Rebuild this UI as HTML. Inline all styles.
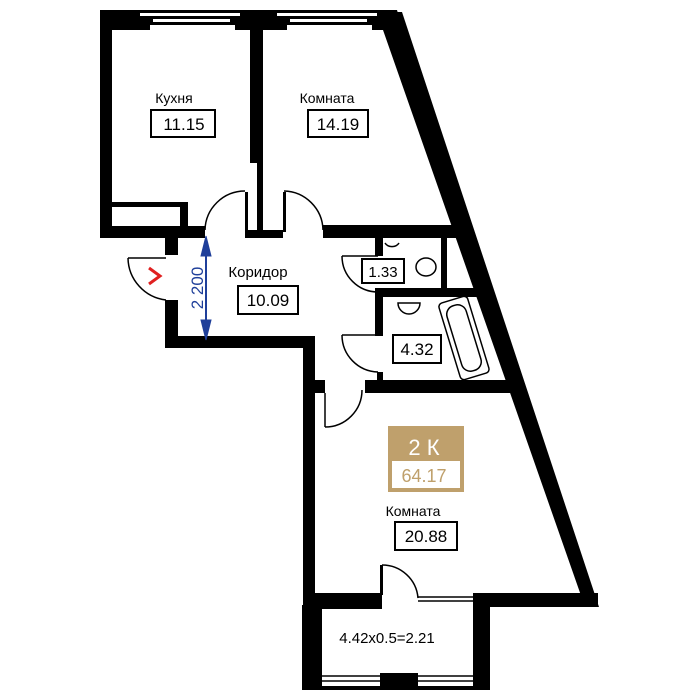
<!DOCTYPE html>
<html><head><meta charset="utf-8"><style>
html,body{margin:0;padding:0;background:#fff}
svg{display:block}
text{font-family:"Liberation Sans",sans-serif}
</style></head><body>
<svg width="700" height="700" viewBox="0 0 700 700" xmlns="http://www.w3.org/2000/svg">
<g fill="#000">
<polygon points="100,10 397,10 403,30 100,30"/>
<polygon points="388,12 402,12 599,607 585,607 383,30"/>
<rect x="100" y="10" width="12" height="228"/>
<rect x="100" y="226" width="105" height="12"/>
<rect x="112" y="202" width="76" height="5"/>
<rect x="180" y="202" width="8" height="26"/>
<rect x="250" y="10" width="13" height="153"/>
<rect x="257" y="160" width="6" height="75"/>
<rect x="245" y="192" width="3" height="40"/>
<rect x="245" y="230" width="38" height="8"/>
<rect x="283" y="192" width="3" height="40"/>
<rect x="323" y="225" width="145" height="13"/>
<rect x="165" y="237" width="13" height="18"/>
<rect x="165" y="300" width="13" height="48"/>
<rect x="165" y="336" width="150" height="12"/>
<rect x="303" y="336" width="12" height="270"/>
<rect x="303" y="380" width="22" height="13"/>
<rect x="375" y="238" width="8" height="18"/>
<rect x="441" y="238" width="6" height="54"/>
<rect x="375" y="288" width="105" height="9"/>
<rect x="375" y="296" width="8" height="40"/>
<rect x="377" y="372" width="6" height="12"/>
<rect x="365" y="380" width="152" height="13"/>
<rect x="303" y="593" width="79" height="16"/>
<rect x="380" y="565" width="3" height="30"/>
<rect x="473" y="593" width="125" height="14"/>
<rect x="302" y="605" width="20" height="85"/>
<rect x="473" y="605" width="17" height="85"/>
<rect x="302" y="686" width="188" height="4"/>
<rect x="380" y="673" width="38" height="15"/>
</g>
<g fill="#fff">
<rect x="140" y="13" width="100" height="3"/>
<rect x="153" y="19" width="77" height="3"/>
<rect x="150" y="25" width="85" height="5"/>
<rect x="277" y="13" width="100" height="3"/>
<rect x="290" y="19" width="77" height="3"/>
<rect x="287" y="25" width="85" height="5"/>
</g>
<g fill="none" stroke="#000" stroke-width="1.5">
<line x1="418" y1="597" x2="473" y2="597"/>
<line x1="418" y1="601" x2="473" y2="601"/>
<line x1="322" y1="676" x2="473" y2="676"/>
<line x1="322" y1="681" x2="473" y2="681"/>
<path d="M205,230 A40,40 0 0 1 245,191"/>
<path d="M323,230 A40,40 0 0 0 284,191"/>
<path d="M128,258 L166,258 M128,258 A43,43 0 0 0 166,300"/>
<path d="M342,256 L378,256 M342,256 A36,36 0 0 0 378,292"/>
<path d="M342,335 L378,335 M342,335 A37,37 0 0 0 378,372"/>
<path d="M325,393 L325,427 M325,427 A37,37 0 0 0 362,390"/>
<path d="M382,565 A36,36 0 0 1 418,598"/>
<rect x="449" y="298" width="30" height="80" rx="4" transform="rotate(-17 464 338)"/>
<rect x="454" y="304" width="20" height="68" rx="9" transform="rotate(-17 464 338)"/>
<ellipse cx="426" cy="267" rx="10" ry="9"/>
<path d="M385,243 A8,7 0 0 0 399,243"/>
<path d="M398,303 A11,11 0 0 0 420,303 Z"/>
</g>
<path d="M149,268 L160,276 L149,284" fill="none" stroke="#e02020" stroke-width="3"/>
<g stroke="#1f3f9a" fill="#1f3f9a">
<line x1="206" y1="246" x2="206" y2="334" stroke-width="2"/>
<polygon points="206,236 201,256 211,256"/>
<polygon points="206,340 201,320 211,320"/>
</g>
<text x="0" y="0" transform="translate(203,288) rotate(-90)" text-anchor="middle" font-size="17" fill="#1f3f9a">2 200</text>
<g font-size="14" fill="#000" text-anchor="middle">
<text x="174" y="103">Кухня</text>
<text x="327" y="103">Комната</text>
<text x="258" y="277" font-size="15">Коридор</text>
<text x="413" y="516">Комната</text>
<text x="387" y="643" font-size="15">4.42x0.5=2.21</text>
</g>
<g fill="none" stroke="#000" stroke-width="2">
<rect x="151" y="110" width="64" height="27"/>
<rect x="308" y="110" width="60" height="27"/>
<rect x="238" y="286" width="60" height="28"/>
<rect x="362" y="259" width="42" height="24"/>
<rect x="393" y="335" width="48" height="28"/>
<rect x="395" y="522" width="62" height="28"/>
</g>
<g font-size="17" fill="#000" text-anchor="middle">
<text x="184" y="130">11.15</text>
<text x="338" y="130">14.19</text>
<text x="268" y="306">10.09</text>
<text x="383" y="277" font-size="15">1.33</text>
<text x="417" y="355">4.32</text>
<text x="426" y="542">20.88</text>
</g>
<rect x="388" y="426" width="76" height="66" fill="#bfa06c"/>
<rect x="392" y="461" width="68" height="27" fill="#fff"/>
<text x="424" y="455" font-size="22" fill="#fff" text-anchor="middle">2 К</text>
<text x="424" y="482" font-size="18" fill="#bfa06c" text-anchor="middle">64.17</text>
</svg>
</body></html>
